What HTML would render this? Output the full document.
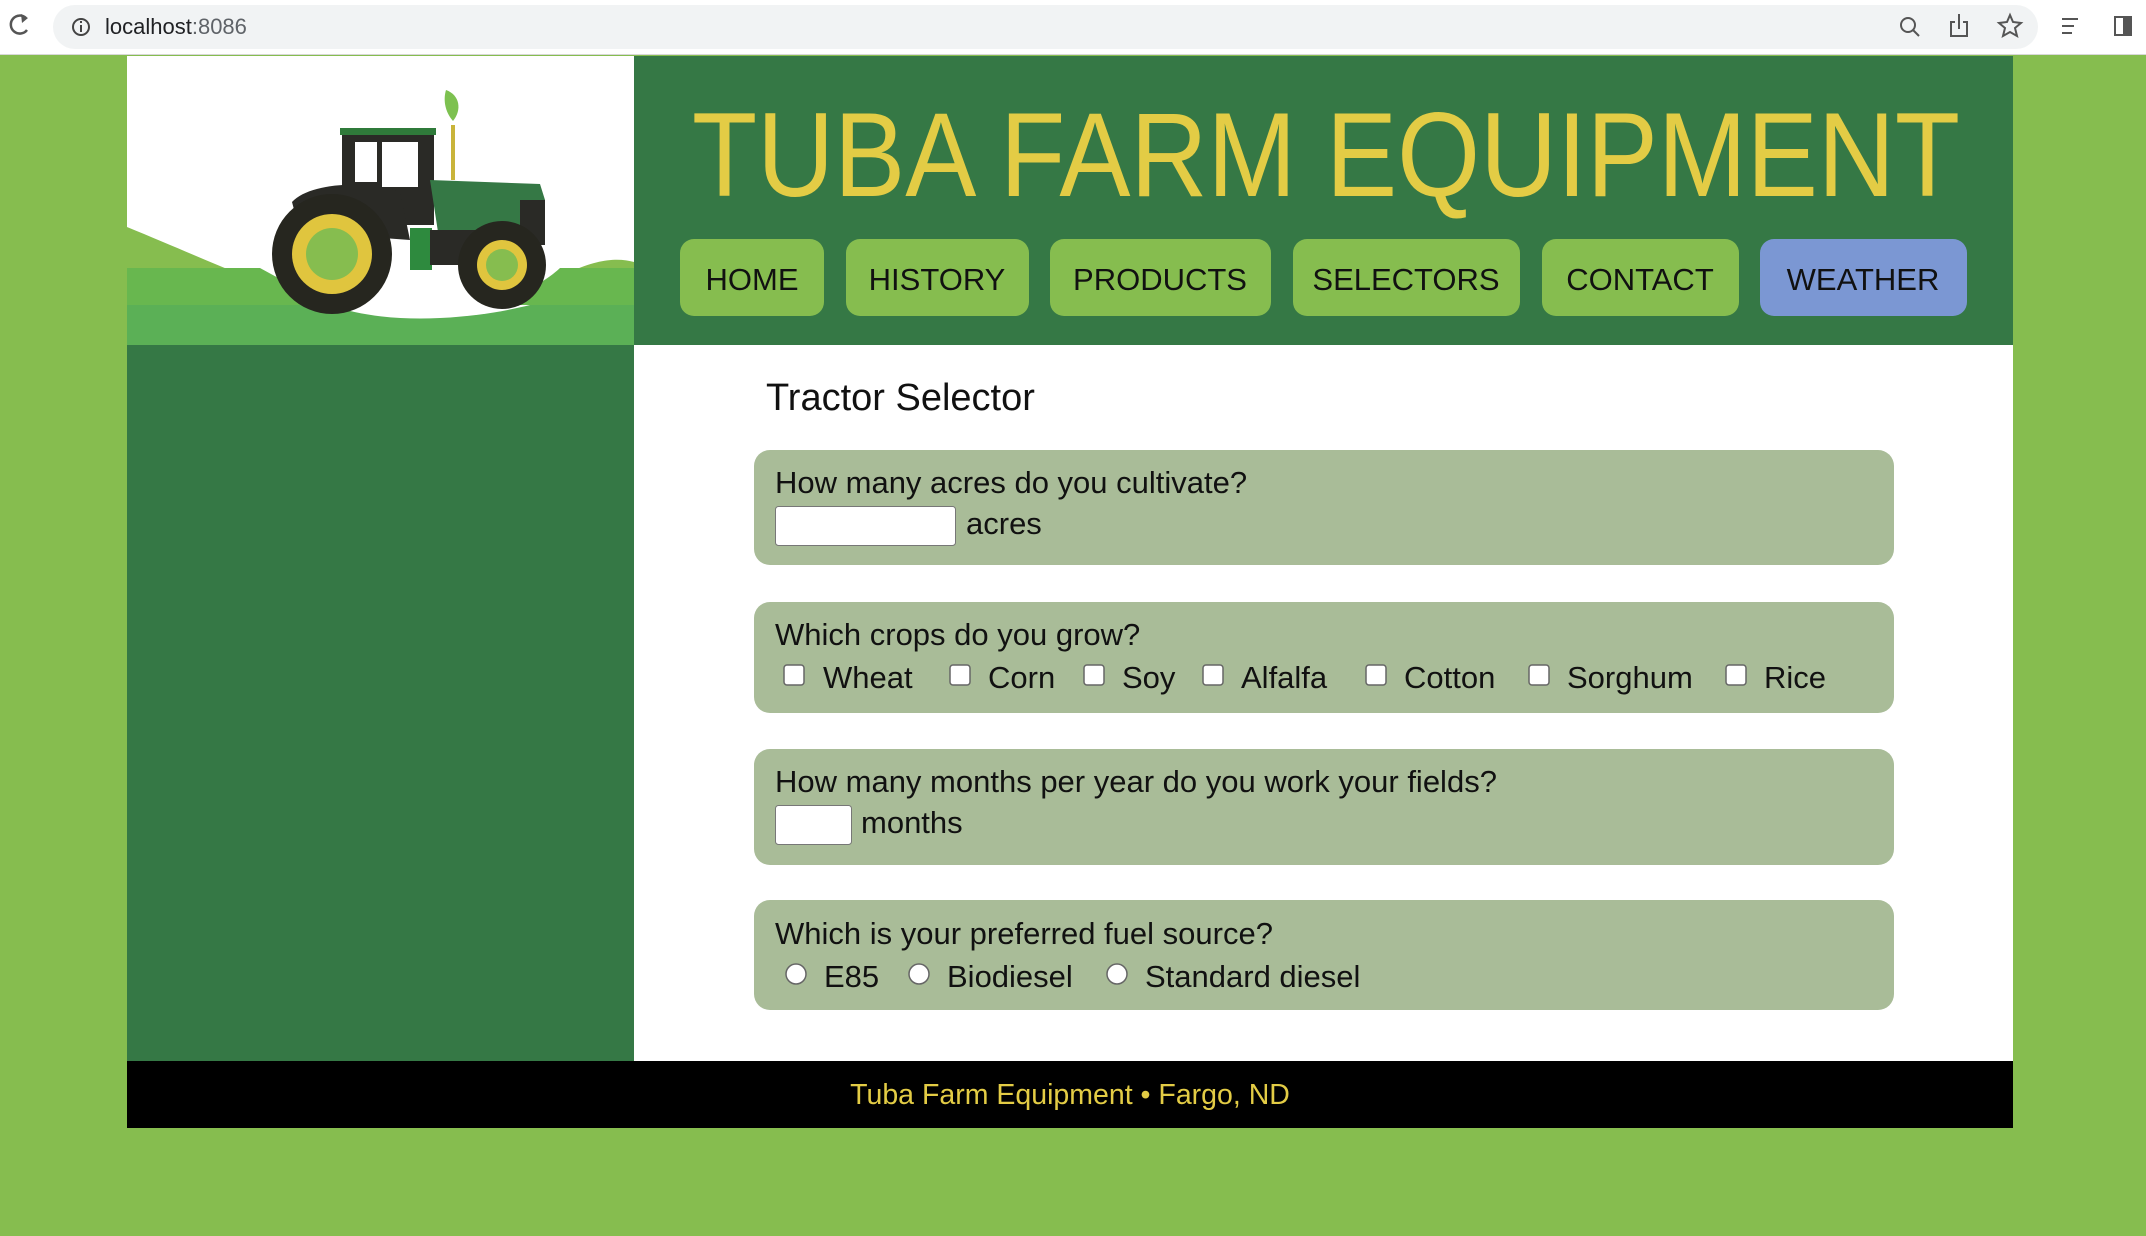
<!DOCTYPE html>
<html><head><meta charset="utf-8"><style>
html,body{margin:0;padding:0;width:2146px;height:1236px;overflow:hidden;background:#86bd4f}
svg{display:block}
text{font-family:"Liberation Sans",sans-serif}
</style></head><body>
<svg width="2146" height="1236" viewBox="0 0 2146 1236">
<rect x="0" y="0" width="2146" height="55" fill="#ffffff"/>
<line x1="0" y1="54.5" x2="2146" y2="54.5" stroke="#d8d8d8"/>
<g><path d="M26 18 A9 9 0 1 0 27 30" fill="none" stroke="#555" stroke-width="2.5"/><path d="M21 14 L28 18 L22 23 Z" fill="#555"/></g>
<rect x="53" y="5" width="1985" height="44" rx="22" fill="#f1f3f4"/>
<circle cx="81" cy="27" r="8" fill="none" stroke="#444" stroke-width="2"/>
<rect x="80" y="25" width="2" height="7" fill="#444"/><rect x="80" y="21" width="2" height="2" fill="#444"/>
<text x="105" y="34" font-size="22" fill="#202124">localhost<tspan fill="#5f6368">:8086</tspan></text>
<g fill="none" stroke="#555" stroke-width="2">
<g><circle cx="1908" cy="25" r="7"/><line x1="1913" y1="30" x2="1919" y2="36"/></g>
<g><path d="M1955 22 h-4 v14 h16 v-14 h-4"/><line x1="1959" y1="14" x2="1959" y2="29"/></g>
<path d="M2010 15 l3 7 8 1 -6 5 2 8 -7 -4 -7 4 2 -8 -6 -5 8 -1z"/>
<g><line x1="2062" y1="19" x2="2078" y2="19"/><line x1="2062" y1="26" x2="2074" y2="26"/><line x1="2062" y1="33" x2="2072" y2="33"/></g>
<rect x="2115" y="17" width="16" height="18"/>
</g>
<rect x="2123" y="17" width="8" height="18" fill="#555"/>

<g>
<rect x="127" y="56" width="507" height="289" fill="#ffffff"/>
<path d="M127 227 C220 265 290 300 380 318 C450 330 520 300 570 272 C600 258 620 258 634 262 L634 345 L127 345 Z" fill="#86bd4f"/>
<path d="M127 268 L260 268 C300 290 340 312 390 318 C460 322 530 296 560 268 L634 268 L634 345 L127 345 Z" fill="#68b74f"/>
<path d="M127 305 L634 305 L634 345 L127 345 Z" fill="#5bb056"/>
<path d="M330 305 C360 316 400 320 440 318 C480 316 510 310 530 305 Z" fill="#fff"/>
<rect x="342" y="130" width="92" height="95" fill="#2a2a26"/>
<rect x="340" y="128" width="96" height="7" fill="#2f7a3a"/>
<rect x="355" y="142" width="22" height="40" fill="#fff"/>
<rect x="382" y="142" width="36" height="45" fill="#fff"/>
<path d="M430 180 L540 184 L545 200 L545 240 L440 245 Z" fill="#357845"/>
<rect x="520" y="200" width="25" height="45" fill="#2a2a26"/>
<path d="M292 202 C310 182 370 180 400 192 L410 240 L300 232 Z" fill="#2a2a26"/>
<rect x="410" y="228" width="22" height="42" fill="#2e8a3e"/>
<rect x="430" y="230" width="90" height="35" fill="#2a2a26"/>
<rect x="451" y="125" width="4" height="55" fill="#c9b43a"/>
<path d="M446 90 C460 95 462 110 453 121 C445 112 443 100 446 90 Z" fill="#7dc150"/>
<circle cx="332" cy="254" r="60" fill="#26261f"/>
<circle cx="332" cy="254" r="40" fill="#e0c53e"/>
<circle cx="332" cy="254" r="26" fill="#86bd4f"/>
<circle cx="502" cy="265" r="44" fill="#26261f"/>
<circle cx="502" cy="265" r="25" fill="#e0c53e"/>
<circle cx="502" cy="265" r="16" fill="#86bd4f"/>
</g>

<rect x="634" y="56" width="1379" height="289" fill="#357845"/>
<text x="692" y="196" font-size="120" fill="#e3cc45" textLength="1268" lengthAdjust="spacingAndGlyphs">TUBA FARM EQUIPMENT</text>
<g font-size="31" fill="#111" text-anchor="middle">
<g><rect x="680" y="239" width="144" height="77" rx="14" fill="#86bd4f"/><text x="752" y="290">HOME</text></g>
<g><rect x="846" y="239" width="183" height="77" rx="14" fill="#86bd4f"/><text x="937" y="290">HISTORY</text></g>
<g><rect x="1050" y="239" width="221" height="77" rx="14" fill="#86bd4f"/><text x="1160" y="290">PRODUCTS</text></g>
<g><rect x="1293" y="239" width="227" height="77" rx="14" fill="#86bd4f"/><text x="1406" y="290">SELECTORS</text></g>
<g><rect x="1542" y="239" width="197" height="77" rx="14" fill="#86bd4f"/><text x="1640" y="290">CONTACT</text></g>
<g><rect x="1760" y="239" width="207" height="77" rx="14" fill="#7b97d3"/><text x="1863" y="290">WEATHER</text></g>
</g>

<rect x="127" y="345" width="507" height="716" fill="#357845"/>
<rect x="634" y="345" width="1379" height="716" fill="#ffffff"/>
<text x="766" y="410" font-size="38" fill="#111">Tractor Selector</text>

<g font-size="31" fill="#111">
<g>
<rect x="754" y="450" width="1140" height="115" rx="16" fill="#a9bc98"/>
<text x="775" y="493">How many acres do you cultivate?</text>
<rect x="775.5" y="506.5" width="180" height="39" rx="3" fill="#fff" stroke="#777"/>
<text x="966" y="534">acres</text>
</g>
<g>
<rect x="754" y="602" width="1140" height="111" rx="16" fill="#a9bc98"/>
<text x="775" y="645">Which crops do you grow?</text>
<g fill="#fff" stroke="#666" stroke-width="1.5">
<rect x="784" y="665" width="20" height="20" rx="3"/>
<rect x="950" y="665" width="20" height="20" rx="3"/>
<rect x="1084" y="665" width="20" height="20" rx="3"/>
<rect x="1203" y="665" width="20" height="20" rx="3"/>
<rect x="1366" y="665" width="20" height="20" rx="3"/>
<rect x="1529" y="665" width="20" height="20" rx="3"/>
<rect x="1726" y="665" width="20" height="20" rx="3"/>
</g>
<text x="823" y="688">Wheat</text><text x="988" y="688">Corn</text><text x="1122" y="688">Soy</text><text x="1241" y="688">Alfalfa</text><text x="1404" y="688">Cotton</text><text x="1567" y="688">Sorghum</text><text x="1764" y="688">Rice</text>
</g>
<g>
<rect x="754" y="749" width="1140" height="116" rx="16" fill="#a9bc98"/>
<text x="775" y="792">How many months per year do you work your fields?</text>
<rect x="775.5" y="805.5" width="76" height="39" rx="3" fill="#fff" stroke="#777"/>
<text x="861" y="833">months</text>
</g>
<g>
<rect x="754" y="900" width="1140" height="110" rx="16" fill="#a9bc98"/>
<text x="775" y="944">Which is your preferred fuel source?</text>
<g fill="#fff" stroke="#666" stroke-width="1.5">
<circle cx="796" cy="974" r="10"/>
<circle cx="919" cy="974" r="10"/>
<circle cx="1117" cy="974" r="10"/>
</g>
<text x="824" y="987">E85</text><text x="947" y="987">Biodiesel</text><text x="1145" y="987">Standard diesel</text>
</g>
</g>

<rect x="127" y="1061" width="1886" height="67" fill="#000"/>
<text x="1070" y="1104" font-size="28.5" fill="#e3cc45" text-anchor="middle">Tuba Farm Equipment • Fargo, ND</text>
</svg>
</body></html>
